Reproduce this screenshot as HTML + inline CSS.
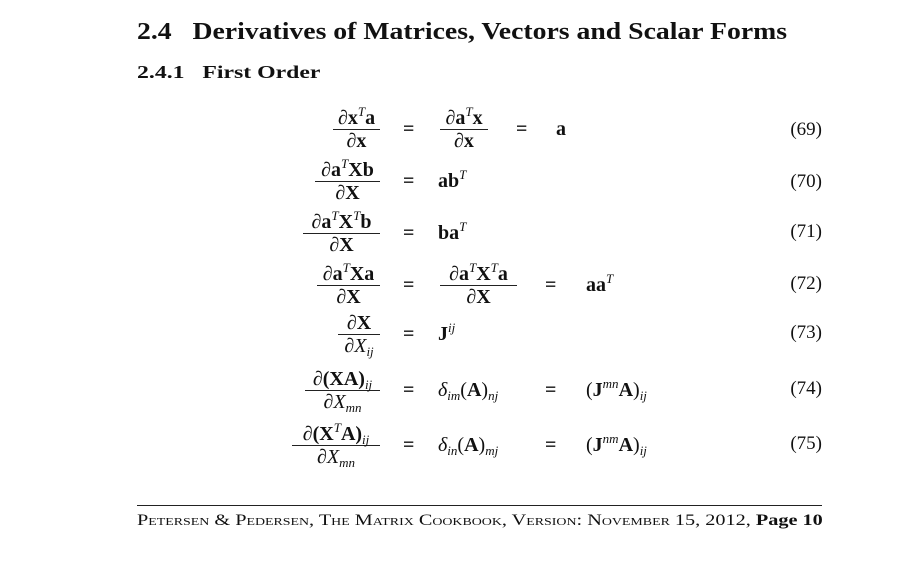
<!DOCTYPE html>
<html><head><meta charset="utf-8"><style>
body{margin:0;width:923px;height:562px;background:#fff;position:relative;overflow:hidden;font-family:"Liberation Serif",serif;color:#111}
.a{position:absolute;white-space:nowrap;transform-origin:left top}
.fr{position:absolute;width:auto;text-align:center;font-size:20px;}
.fr .n{line-height:20px;height:21px;border-bottom:1px solid #222;font-weight:bold}
.fr .d{line-height:22px;font-weight:bold}
.e{position:absolute;font-size:20px;line-height:20px;white-space:nowrap}
.b{font-weight:bold}
i{font-style:italic;font-weight:normal}
sup{font-size:13px;vertical-align:8px;line-height:0}
sub{font-size:13px;vertical-align:-4px;line-height:0}
.num{position:absolute;right:101px;font-size:19px;line-height:20px}
</style></head><body>
<div class="a b" style="left:137px;top:19px;font-size:24px;transform:scaleX(1.155)">2.4&nbsp;&nbsp;&nbsp;Derivatives of Matrices, Vectors and Scalar Forms</div>
<div class="a b" style="left:137px;top:62px;font-size:18px;transform:scaleX(1.32)">2.4.1&nbsp;&nbsp;&nbsp;First Order</div>

<!-- 69 -->
<div class="fr" style="left:333px;width:47px;top:108px"><div class="n">∂x<sup><i>T</i></sup>a</div><div class="d">∂x</div></div>
<div class="e b" style="left:403px;top:119px">=</div>
<div class="fr" style="left:440px;width:48px;top:108px"><div class="n">∂a<sup><i>T</i></sup>x</div><div class="d">∂x</div></div>
<div class="e b" style="left:516px;top:119px">=</div>
<div class="e b" style="left:556px;top:119px">a</div>
<div class="num" style="top:120px">(69)</div>

<!-- 70 -->
<div class="fr" style="left:315px;width:65px;top:160px"><div class="n">∂a<sup><i>T</i></sup>Xb</div><div class="d">∂X</div></div>
<div class="e b" style="left:403px;top:171px">=</div>
<div class="e b" style="left:438px;top:171px">ab<sup><i>T</i></sup></div>
<div class="num" style="top:172px">(70)</div>

<!-- 71 -->
<div class="fr" style="left:303px;width:77px;top:212px"><div class="n">∂a<sup><i>T</i></sup>X<sup><i>T</i></sup>b</div><div class="d">∂X</div></div>
<div class="e b" style="left:403px;top:223px">=</div>
<div class="e b" style="left:438px;top:223px">ba<sup><i>T</i></sup></div>
<div class="num" style="top:222px">(71)</div>

<!-- 72 -->
<div class="fr" style="left:317px;width:63px;top:264px"><div class="n">∂a<sup><i>T</i></sup>Xa</div><div class="d">∂X</div></div>
<div class="e b" style="left:403px;top:275px">=</div>
<div class="fr" style="left:440px;width:77px;top:264px"><div class="n">∂a<sup><i>T</i></sup>X<sup><i>T</i></sup>a</div><div class="d">∂X</div></div>
<div class="e b" style="left:545px;top:275px">=</div>
<div class="e b" style="left:586px;top:275px">aa<sup><i>T</i></sup></div>
<div class="num" style="top:274px">(72)</div>

<!-- 73 -->
<div class="fr" style="left:338px;width:42px;top:313px"><div class="n">∂X</div><div class="d"><i>∂X</i><sub><i>ij</i></sub></div></div>
<div class="e b" style="left:403px;top:324px">=</div>
<div class="e b" style="left:438px;top:324px">J<sup><i>ij</i></sup></div>
<div class="num" style="top:323px">(73)</div>

<!-- 74 -->
<div class="fr" style="left:305px;width:75px;top:369px"><div class="n"><i>∂</i>(XA)<sub><i>ij</i></sub></div><div class="d"><i>∂X</i><sub><i>mn</i></sub></div></div>
<div class="e b" style="left:403px;top:380px">=</div>
<div class="e" style="left:438px;top:380px"><i>δ</i><sub><i>im</i></sub>(<b>A</b>)<sub><i>nj</i></sub></div>
<div class="e b" style="left:545px;top:380px">=</div>
<div class="e" style="left:586px;top:380px">(<b>J</b><sup><i>mn</i></sup><b>A</b>)<sub><i>ij</i></sub></div>
<div class="num" style="top:379px">(74)</div>

<!-- 75 -->
<div class="fr" style="left:292px;width:88px;top:424px"><div class="n"><i>∂</i>(X<sup><i>T</i></sup>A)<sub><i>ij</i></sub></div><div class="d"><i>∂X</i><sub><i>mn</i></sub></div></div>
<div class="e b" style="left:403px;top:435px">=</div>
<div class="e" style="left:438px;top:435px"><i>δ</i><sub><i>in</i></sub>(<b>A</b>)<sub><i>mj</i></sub></div>
<div class="e b" style="left:545px;top:435px">=</div>
<div class="e" style="left:586px;top:435px">(<b>J</b><sup><i>nm</i></sup><b>A</b>)<sub><i>ij</i></sub></div>
<div class="num" style="top:434px">(75)</div>

<div class="a" style="left:137px;top:505px;width:685px;border-top:1px solid #222"></div>
<div class="a" style="left:137px;top:512px;font-size:16px;font-variant:small-caps;transform:scaleX(1.265)">Petersen &amp; Pedersen, The Matrix Cookbook, Version: November 15, 2012, <b style="font-variant:normal">Page 10</b></div>
</body></html>
